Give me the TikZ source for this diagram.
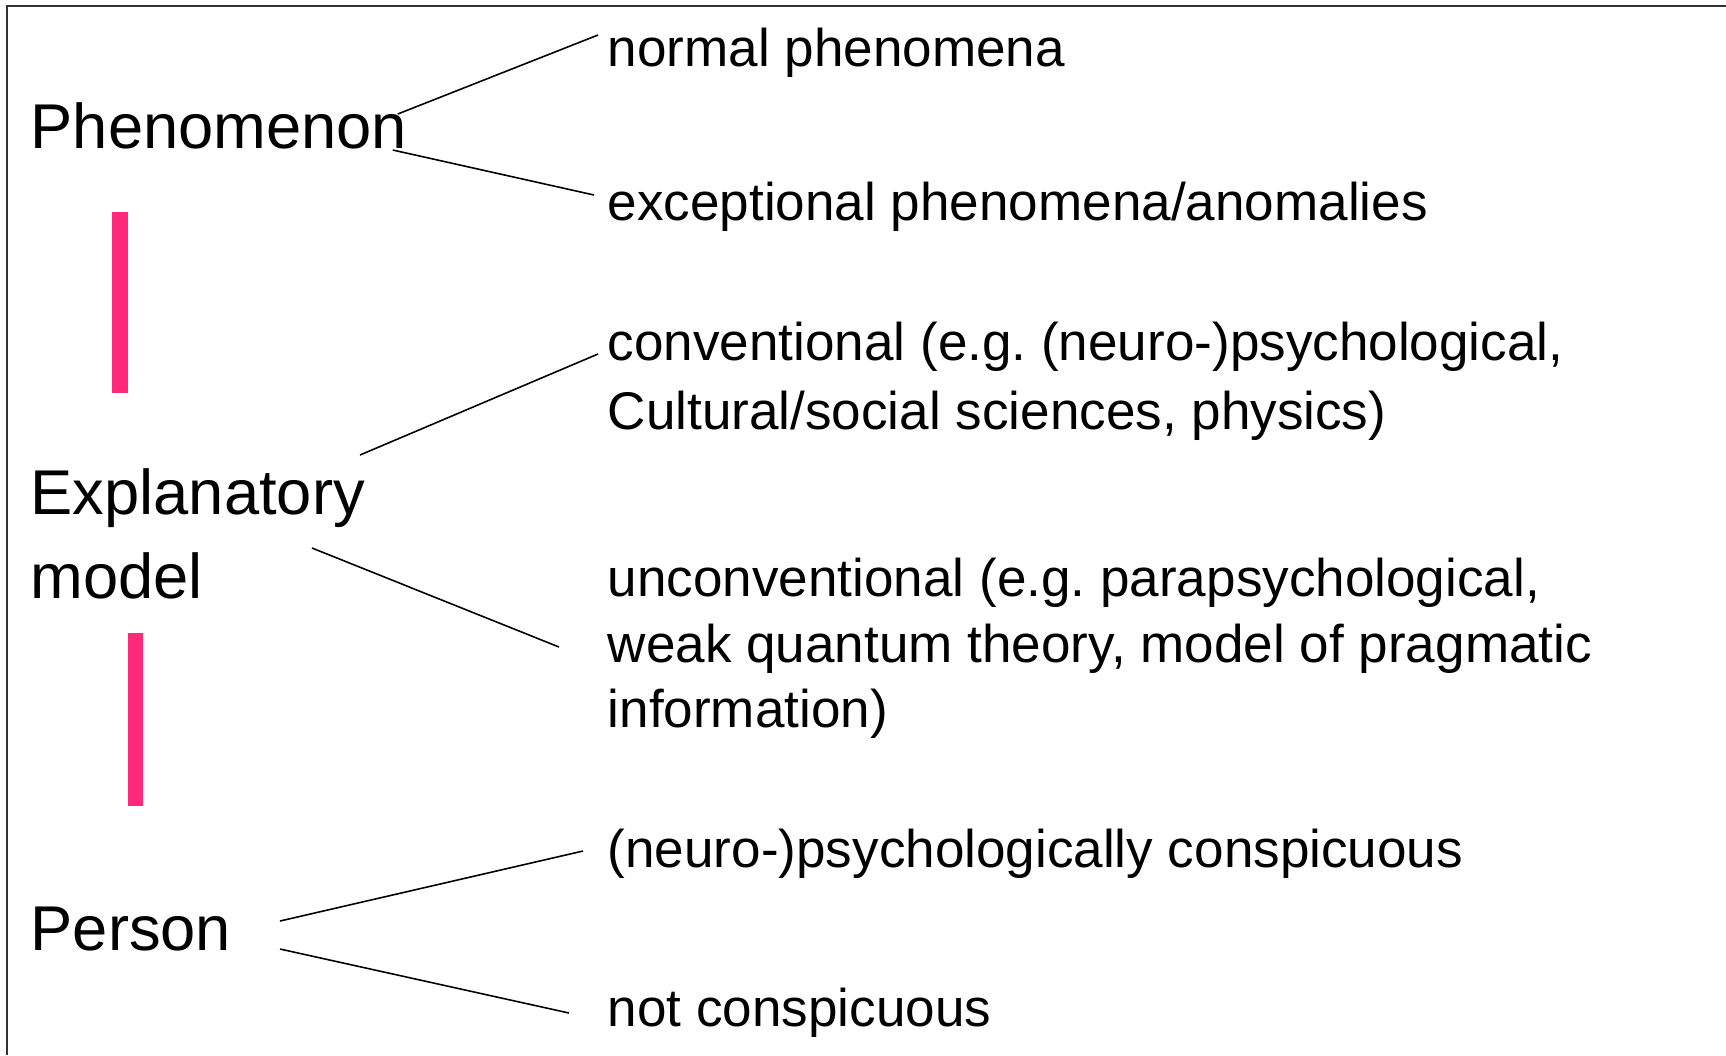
\documentclass[tikz,border=0pt]{standalone}
\usepackage{fontspec}
\setmainfont{Liberation Sans}
\usepackage{tikz}
\usetikzlibrary{calc}
\definecolor{barpink}{RGB}{255,41,123}
\definecolor{framegray}{RGB}{50,50,50}
\frenchspacing

\begin{document}
\begin{tikzpicture}[x=1cm,y=1cm,line width=.4pt,
      lvl/.style={anchor=base west,inner sep=0,align=left,font=\fontsize{18}{23.8}\selectfont},
      itm/.style={anchor=base west,inner sep=0,align=left,font=\fontsize{15.1}{19}\selectfont},
      bar/.style={fill=barpink,draw=none},
      lnk/.style={draw,line width=.45pt}]
      \useasboundingbox (0,0) rectangle (17.26,-10.55);
      \draw[framegray,line width=.6pt] (0.07,-10.55) |- (17.26,-0.06);
      % levels on the left (base = last line)
      \node[lvl] (phen) at (0.30,-1.48) {Phenomenon};
      \node[lvl] (expl) at (0.30,-5.98) {Explanatory\\model};
      \node[lvl] (pers) at (0.30,-9.50) {Person};
      \fill[bar] (1.12,-2.12) rectangle (1.28,-3.93);
      \fill[bar] (1.28,-6.33) rectangle (1.43,-8.06);
      % items on the right
      \node[itm] (norm) at (6.07,-0.66) {normal phenomena};
      \node[itm] (exc) at (6.07,-2.20) {exceptional phenomena/anomalies};
      \node[itm,font=\fontsize{15.1}{19.4}\selectfont] (conv) at (6.07,-4.29) {conventional (e.g. (neuro-)psychological,\\Cultural/social sciences, physics)};
      \node[itm,font=\fontsize{15.1}{18.5}\selectfont] (unconv) at (6.07,-7.27) {unconventional (e.g. parapsychological,\\weak quantum theory, model of pragmatic\\information)};
      \node[itm] (neuro) at (6.07,-8.67) {(neuro-)psychologically conspicuous};
      \node[itm] (notc) at (6.07,-10.26) {not conspicuous};
      \draw[lnk] ([shift={(-0.10,0.34)}]phen.base east) -- ([shift={(-0.09,0.31)}]norm.base west);
      \draw[lnk] ([shift={(-0.15,-0.02)}]phen.base east) -- ([shift={(-0.13,0.25)}]exc.base west);
      \draw[lnk] ([shift={(3.30,1.43)}]expl.base west) -- ([shift={(-0.09,0.75)}]conv.base west);
      \draw[lnk] ([shift={(2.82,0.50)}]expl.base west) -- ([shift={(-0.48,0.80)}]unconv.base west);
      \draw[lnk] ([shift={(2.50,0.29)}]pers.base west) -- ([shift={(-0.24,0.16)}]neuro.base west);
      \draw[lnk] ([shift={(2.50,0.01)}]pers.base west) -- ([shift={(-0.38,0.13)}]notc.base west);
    \end{tikzpicture}
\end{document}
